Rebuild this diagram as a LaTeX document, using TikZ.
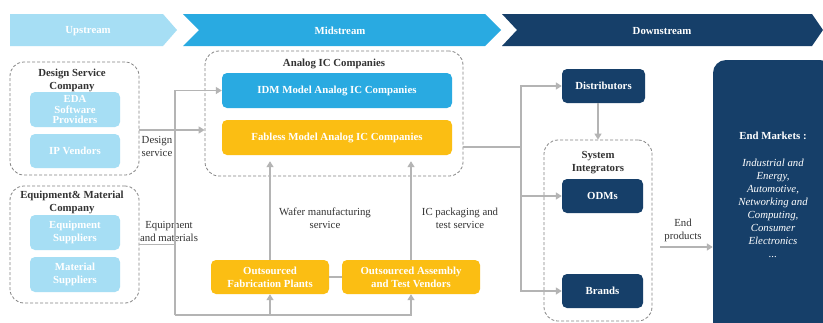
\documentclass[tikz,border=0pt]{standalone}
\usepackage{fontspec}
\setmainfont{Liberation Serif}
\usetikzlibrary{arrows.meta}
\definecolor{lblue}{HTML}{A6DEF4}
\definecolor{mblue}{HTML}{29AAE1}
\definecolor{navy}{HTML}{163F69}
\definecolor{gold}{HTML}{FBBE13}
\definecolor{lgray}{HTML}{B4B4B4}
\definecolor{dgray}{HTML}{858585}
\definecolor{txt}{HTML}{333333}
\begin{document}
\begin{tikzpicture}[x=1pt,y=-1pt,
  wlbl/.style={font=\fontsize{10.8}{13}\selectfont\bfseries, align=center, text=white, inner sep=0pt},
  ttl/.style={font=\fontsize{10.8}{13}\selectfont\bfseries, align=center, text=txt, inner sep=0pt, yshift=-1pt},
  plain/.style={font=\fontsize{10.8}{13}\selectfont, align=center, text=txt, inner sep=0pt, yshift=-1pt},
  tl/.style={wlbl, yshift=-1.2pt},
  dbox/.style={draw=dgray, line width=0.8pt, dash pattern=on 3pt off 2pt, rounded corners=14pt, inner sep=0pt},
  lbbox/.style={wlbl, fill=lblue, rounded corners=5pt, minimum width=90pt, minimum height=35pt},
  bbox/.style={wlbl, fill=mblue, rounded corners=5pt},
  ybox/.style={wlbl, fill=gold, rounded corners=5pt},
  nbox/.style={wlbl, fill=navy, rounded corners=5pt},
  gline/.style={draw=lgray, line width=1.3pt},
  conn/.style={gline, -{Triangle[length=6pt,width=7pt]}},
]
\useasboundingbox (0,0) rectangle (823,322);
\clip (0,0) rectangle (823,322);
\fill[white] (0,0) rectangle (823,322);

% banners
\fill[lblue] (10,14) -- (163,14) -- (177,30) -- (163,46) -- (10,46) -- cycle;
\fill[mblue] (183,14) -- (485,14) -- (501,30) -- (485,46) -- (183,46) -- (199,30) -- cycle;
\fill[navy] (502,14) -- (812,14) -- (823,30) -- (812,46) -- (502,46) -- (517,30) -- cycle;
\node[tl] (up) at (88,30) {Upstream};
\node[tl] (mid) at (340,30) {Midstream};
\node[tl] (down) at (662,30) {Downstream};

% upstream
\node[dbox, minimum width=129pt, minimum height=113pt] (dsc) at (74.5,118.5) {};
\node[ttl] (dsct) at (72,79.5) {Design Service\\Company};
\node[lbbox, font=\fontsize{10.8}{10.8}\selectfont\bfseries] (eda) at (75,109.5) {EDA\\Software\\Providers};
\node[lbbox, minimum height=34pt] (ipv) at (75,151) {IP Vendors};

\node[dbox, minimum width=129pt, minimum height=117pt] (emc) at (74.5,244.5) {};
\node[ttl] (emct) at (72,201.5) {Equipment\& Material\\Company};
\node[lbbox] (eqs) at (75,232.5) {Equipment\\Suppliers};
\node[lbbox] (mts) at (75,274.5) {Material\\Suppliers};

% midstream
\node[dbox, minimum width=258pt, minimum height=125pt] (ana) at (334,113.5) {};
\node[ttl] (anat) at (334,63) {Analog IC Companies};
\node[bbox, minimum width=230pt, minimum height=35pt] (idm) at (337,90.5) {IDM Model Analog IC Companies};
\node[ybox, minimum width=230pt, minimum height=35pt] (fabless) at (337,137.5) {Fabless Model Analog IC Companies};
\node[ybox, minimum width=118pt, minimum height=34pt] (fab) at (270,277) {Outsourced\\Fabrication Plants};
\node[ybox, minimum width=138pt, minimum height=34pt] (asm) at (411,277) {Outsourced Assembly\\and Test Vendors};

% downstream
\node[nbox, minimum width=83pt, minimum height=34pt] (dist) at (603.5,86) {Distributors};
\node[dbox, minimum width=108pt, minimum height=181pt] (si) at (598,230.5) {};
\node[ttl] (sit) at (598,161.5) {System\\Integrators};
\node[nbox, minimum width=81pt, minimum height=34pt] (odm) at (602.5,196) {ODMs};
\node[nbox, minimum width=81pt, minimum height=34pt] (brand) at (602.5,291) {Brands};
\node[fill=navy, rounded corners=13pt, minimum width=120pt, minimum height=280pt, inner sep=0pt] (em) at (773,200) {};
\node[tl] (emt) at (773,135) {End Markets :};
\node[tl, font=\fontsize{10.8}{13}\selectfont\itshape] (eml) at (773,207) {Industrial and\\Energy,\\Automotive,\\Networking and\\Computing,\\Consumer\\Electronics\\...};

% labels
\node[plain] (lds) at (157,145.5) {Design\\service};
\node[plain] (lem) at (169,230.5) {Equipment\\and materials};
\node[plain] (lwf) at (325,217.5) {Wafer manufacturing\\service};
\node[plain] (lic) at (460,217.5) {IC packaging and\\test service};
\node[plain] (lep) at (683,229) {End\\products};

% connectors
\coordinate (bl) at (175,315);
\coordinate (dsout) at ([yshift=-11.5pt]dsc.east);
\draw[conn] (dsout) -- (dsout -| ana.west);
\draw[gline] (emc.east) -- (emc.east -| bl);
\draw[conn] (bl) |- (idm.west);
\draw[conn] (bl) -| (asm.south);
\draw[conn] (fab.south |- bl) -- (fab.south);
\draw[gline] (fab.east) -- (asm.west);
\coordinate (wtop) at ([yshift=-6pt]fabless.south);
\draw[conn] (fab.north) -- (fab.north |- wtop);
\draw[conn] (asm.north) -- (asm.north |- wtop);

\coordinate (aout) at ([yshift=-33.5pt]ana.east);
\coordinate (split) at (521,147);
\draw[gline] (aout) -- (split);
\draw[conn] (split) |- (dist.west);
\draw[conn] (split) |- (odm.west);
\draw[conn] (split) |- (brand.west);
\draw[conn] (dist.south -| si.north) -- (si.north);
\coordinate (ep) at (660,247);
\draw[conn] (ep) -- (ep -| em.west);
\end{tikzpicture}
\end{document}
